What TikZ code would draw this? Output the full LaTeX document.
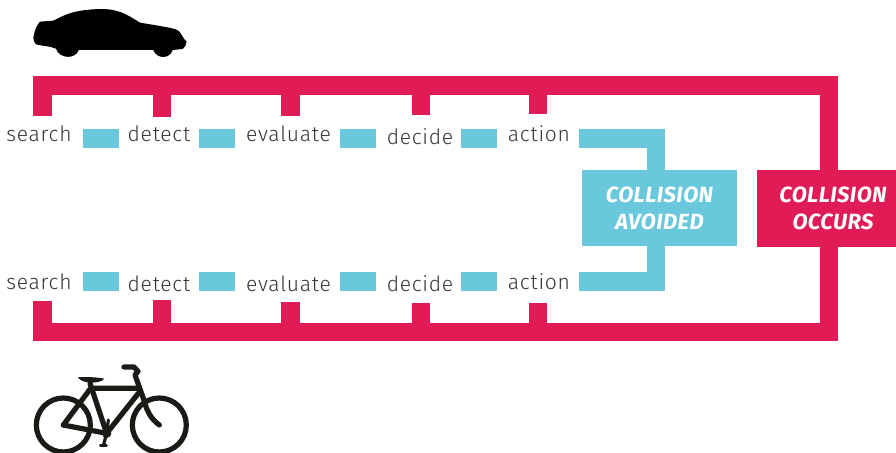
\documentclass[tikz,border=0pt]{standalone}
\usepackage{fontspec}
\setmainfont{Fira Sans Light}[BoldFont={Fira Sans Bold},ItalicFont={Fira Sans Light Italic},BoldItalicFont={Fira Sans Bold Italic}]
\newfontfamily\lblfont{Fira Sans Light}[LetterSpace=3.5]
\newfontfamily\boxfont{Fira Sans Bold Italic}[LetterSpace=2]
\definecolor{crim}{HTML}{E01B56}
\definecolor{sky}{HTML}{69C8DB}
\definecolor{ink}{HTML}{353535}
\definecolor{bikeink}{HTML}{1C1A16}
\newcommand{\dropline}[1]{\raisebox{-.75pt}{#1}}
\tikzset{
  redbar/.style={draw=crim,line width=13.8pt},
  bluebar/.style={draw=sky,line width=14.1pt},
  lbl/.style={anchor=base,inner sep=0pt,text=ink,font=\fontsize{15.8pt}{16pt}\lblfont},
  swatch/.style={fill=sky,minimum width=27pt,minimum height=14.2pt,inner sep=0pt,outer sep=0pt,anchor=north west},
  outcome/.style={inner sep=0pt,outer sep=0pt,anchor=north west,align=center,text=white,font=\fontsize{16.5pt}{20.2pt}\boxfont},
  frame/.style={draw=bikeink,line width=3.9pt,line cap=round,line join=round}
}
\begin{document}
\begin{tikzpicture}[x=.75pt,y=-.75pt]
\useasboundingbox (0,0) rectangle (896,453);
\clip (0,0) rectangle (896,453);
% outcome boxes (the red one runs off the page edge)
\node[outcome,fill=crim,minimum width=114pt,minimum height=57.75pt] (occurs) at (757,170) {\dropline{COLLISION}\\\dropline{OCCURS}};
\node[outcome,fill=sky,minimum width=116.25pt,minimum height=57pt] (avoided) at (582,170) {\dropline{COLLISION}\\\dropline{AVOIDED}};
% corner coordinates
\coordinate (tl) at (33,85.5);
\coordinate (tr) at (838,85.5);
\coordinate (bl) at (33,332);
\coordinate (br) at (838,332);
\coordinate (rt) at (829,76);
\coordinate (rb) at (829,341);
% red rails
\draw[redbar] (tl) -- (tr);
\draw[redbar] (bl) -- (br);
\draw[redbar] (rt) -- (occurs.north -| rt);
\draw[redbar] (occurs.south -| rb) -- (rb);
% top ticks
\foreach \n/\x/\e in {a/42.5/116,b/162/117,c/290.5/116,d/421/115,e/538/114}{
  \coordinate (t\n) at (\x,85.5);
  \coordinate (te\n) at (\x,\e);
  \draw[redbar] (t\n) -- (te\n);
}
% bottom ticks
\foreach \n/\x/\e in {a/42.5/301,b/162/300,c/290.5/302,d/421/303,e/538/303}{
  \coordinate (u\n) at (\x,332);
  \coordinate (ue\n) at (\x,\e);
  \draw[redbar] (u\n) -- (ue\n);
}
% swatches
\foreach \n/\x in {a/83,b/199,c/340,d/461}{
  \node[swatch] (s\n) at (\x,129) {};
  \node[swatch] (r\n) at (\x,272) {};
}
% labels top
\node[lbl] (l1) at (39,142) {search};
\node[lbl] (l2) at (159,142) {detect};
\node[lbl] (l3) at (288.5,142) {evaluate};
\node[lbl] (l4) at (420,144) {decide};
\node[lbl] (l5) at (539,142) {action};
% labels bottom
\node[lbl] (m1) at (39,289.5) {search};
\node[lbl] (m2) at (159,291) {detect};
\node[lbl] (m3) at (288.5,291) {evaluate};
\node[lbl] (m4) at (420,291) {decide};
\node[lbl] (m5) at (539,289.5) {action};
% blue connectors
\coordinate (ca) at (579,138.5);
\coordinate (cb) at (579,281.5);
\draw[bluebar,line join=miter] (ca) -| (656,170);
\draw[bluebar,line join=miter] (cb) -| (656,246);
% car
\begin{scope}[x=.25pt,y=-.25pt]
\fill[black] (100,112) .. controls (103,95) and (110,75) .. (120,65) -- (160,62)
 .. controls (195,45) and (215,30) .. (300,27)
 .. controls (355,27) and (375,40) .. (420,68)
 -- (480,78) .. controls (505,83) and (525,85) .. (535,92) .. controls (545,100) and (548,115) .. (560,125)
 .. controls (558,135) and (555,142) .. (548,147) -- (518,150)
 .. controls (510,178) and (470,178) .. (460,150)
 -- (236,150)
 .. controls (228,178) and (178,178) .. (168,146)
 .. controls (150,138) and (125,138) .. (108,133) .. controls (102,128) and (100,120) .. (100,112) -- cycle;
\end{scope}
% bicycle
\begin{scope}[x=.25pt,y=-.25pt,shift={(0pt,-195pt)}]
\draw[bikeink,line width=3.9pt] (190,495) circle[radius=81];
\draw[bikeink,line width=3.9pt] (478,495) circle[radius=81];
\draw[frame] (190,495) -- (320,520) -- (415,400);
\draw[frame] (190,495) -- (272,385) -- (415,385);
\draw[frame] (270,370) -- (320,520);
\draw[frame] (372,321) -- (402,321) -- (414,334) -- (405,345) -- (430,415)
  .. controls (440,450) and (450,475) .. (478,495);
\draw[frame,line width=2.4pt] (325,480) -- (320,520) -- (310,557);
\draw[frame,line width=1.8pt] (301,557) -- (320,557);
\fill[bikeink] (233,352) .. controls (260,350) and (295,352) .. (313,356)
  .. controls (305,370) and (250,375) .. cycle;
\fill[bikeink] (320,520) circle[radius=14];
\end{scope}
\end{tikzpicture}
\end{document}
